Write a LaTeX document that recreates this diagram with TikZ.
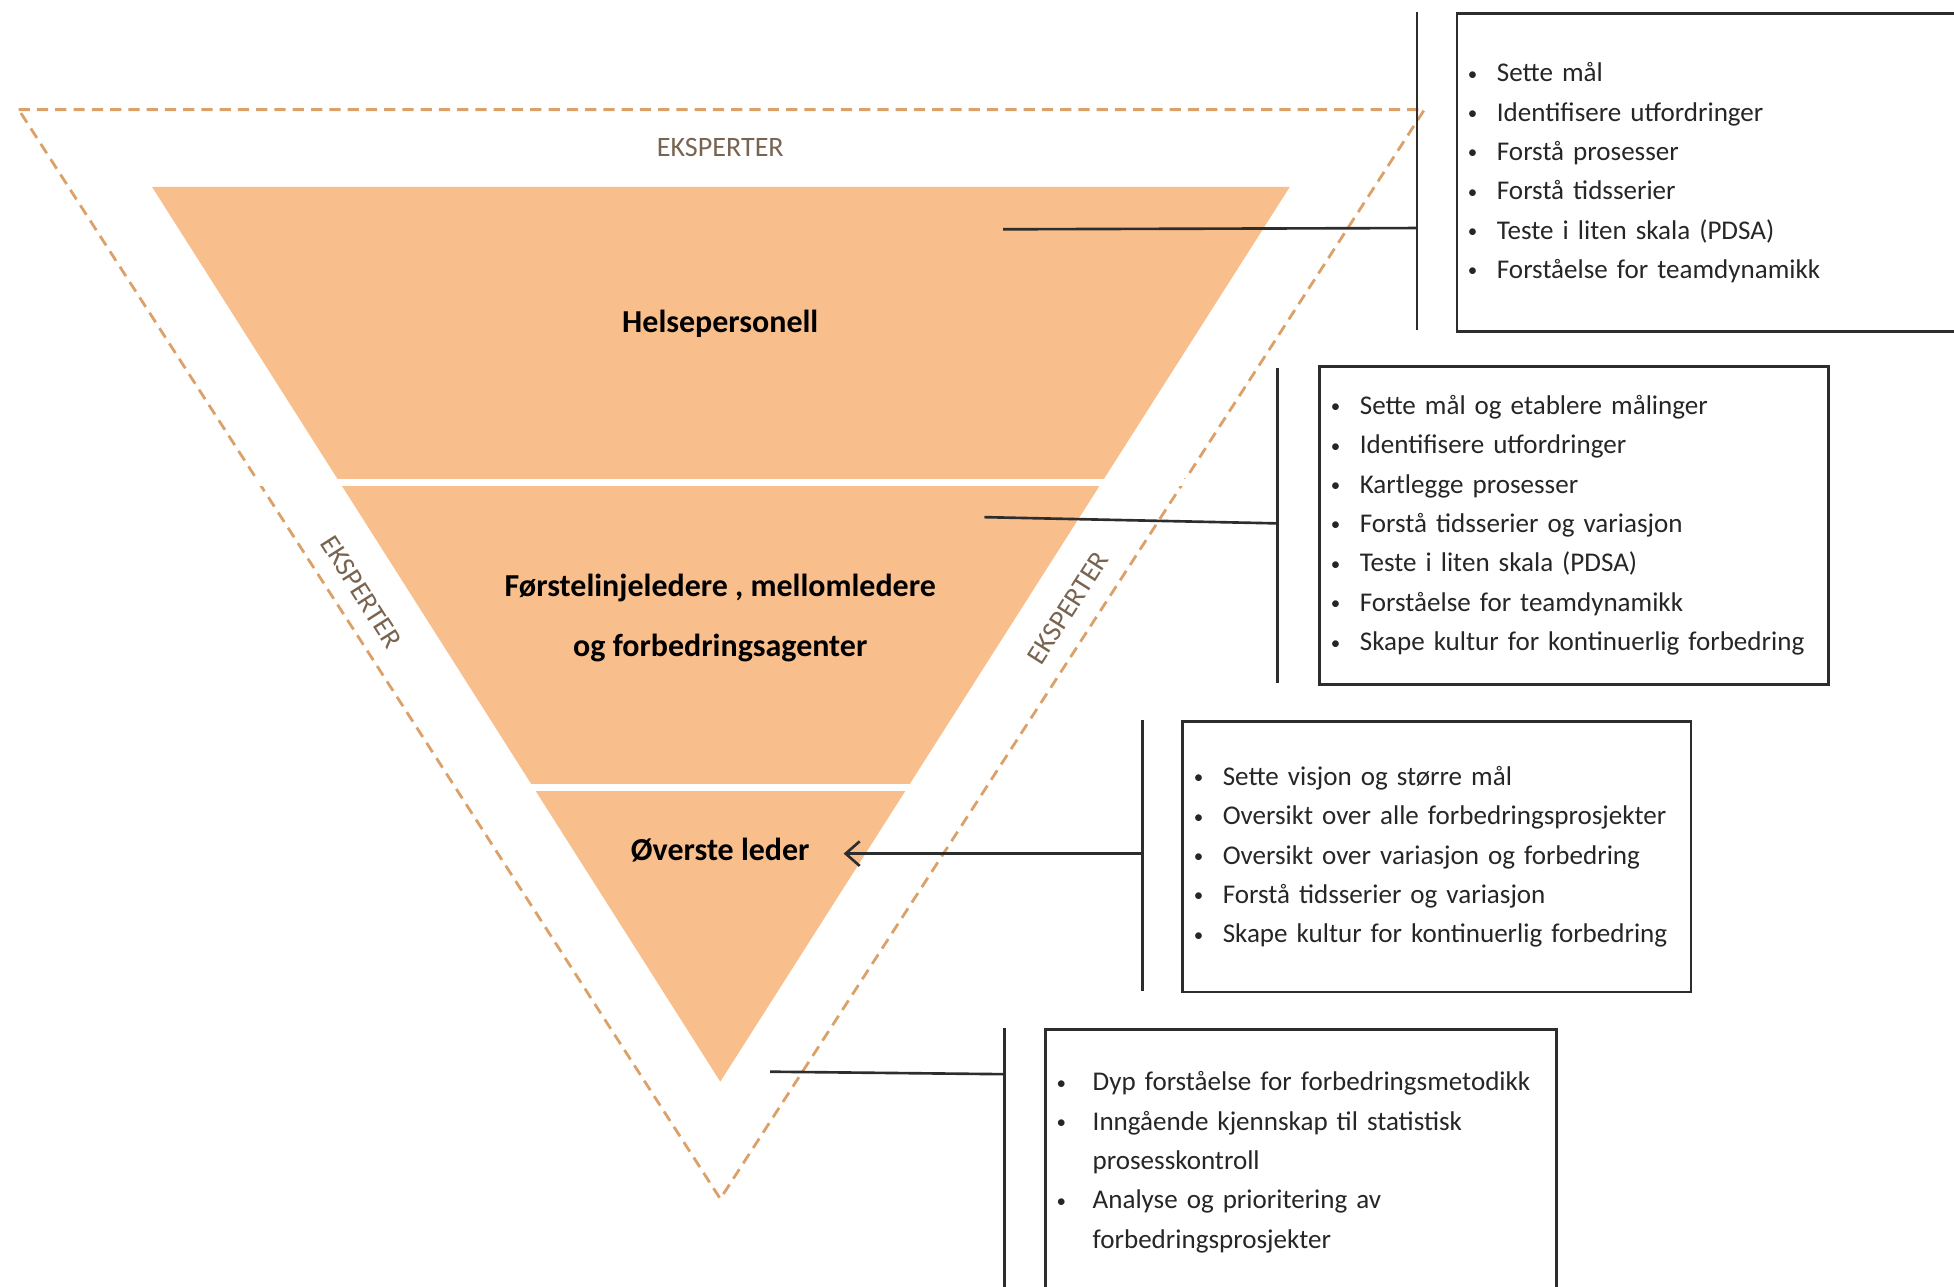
\documentclass[tikz,border=0pt]{standalone}
\usepackage{fontspec}
\setmainfont{Carlito}
\usetikzlibrary{arrows.meta}
\definecolor{pyrfill}{RGB}{248,190,140}
\definecolor{dashcol}{RGB}{220,160,105}
\definecolor{expcol}{RGB}{120,100,80}
\definecolor{linecol}{RGB}{45,45,45}
\newcommand{\smallbul}{\raisebox{0.45pt}{\fontsize{5.4}{5}\selectfont\textbullet}}
\newcommand{\bl}{\makebox[0.29cm][l]{\smallbul}}
\newcommand{\blw}{\makebox[0.36cm][l]{\smallbul}}
\begin{document}
\begin{tikzpicture}[x=0.01246cm, y=-0.01246cm,
  listbox/.style={draw=linecol, line width=0.8pt, anchor=north west,
    inner xsep=0.11cm, inner ysep=0pt, align=left,
    font=\fontsize{7.7}{11.2}\selectfont, text=black!85},
  layerlabel/.style={font=\bfseries\fontsize{9.1}{17}\selectfont, align=center, text=black},
  expert/.style={font=\fontsize{8}{9.6}\selectfont, text=expcol},
  conn/.style={draw=linecol, line width=0.75pt},
  bracket/.style={draw=linecol, line width=0.75pt},
  dashtri/.style={draw=dashcol, line width=0.8pt, dash pattern=on 3.2pt off 2pt},
  gap/.style={draw=white, line width=0.065cm}]
\useasboundingbox (0,0) rectangle (1568,1032);
\clip (0,0) rectangle (1568,1032);

% dashed outer triangle
\coordinate (d1) at (15,88);
\coordinate (d2) at (1143,88);
\coordinate (d3) at (578,962);
\draw[dashtri] (d1) -- (d2) -- (d3) -- cycle;

% orange pyramid
\coordinate (p1) at (122,150);
\coordinate (p2) at (1035,150);
\coordinate (p3) at (578,868);
\fill[pyrfill] (p1) -- (p2) -- (p3) -- cycle;
\coordinate (g1a) at (200,387);
\coordinate (g1b) at (960,387);
\coordinate (g2a) at (380,632);
\coordinate (g2b) at (780,632);
\draw[gap] (g1a) -- (g1b);
\draw[gap] (g2a) -- (g2b);

% labels
\node[expert] (etop) at (578,118) {EKSPERTER};
\node[expert, rotate=-57.5] (eleft) at (290,475) {EKSPERTER};
\node[expert, rotate=57.5] (eright) at (857,488) {EKSPERTER};
\node[layerlabel] (hp) at (578,260) {Helsepersonell};
\node[layerlabel] (fl) at (578,496) {Førstelinjeledere , mellomledere\\og forbedringsagenter};
\node[layerlabel] (ov) at (578,682) {Øverste leder};

% boxes
\node[listbox, minimum width=5.134cm, minimum height=3.177cm, text width=4.914cm] (b1) at (1168,10) {%
\bl Sette mål\\
\bl Identifisere utfordringer\\
\bl Forstå prosesser\\
\bl Forstå tidsserier\\
\bl Teste i liten skala (PDSA)\\
\bl Forståelse for teamdynamikk};
\node[listbox, minimum width=5.084cm, minimum height=3.177cm, text width=4.864cm] (b2) at (1058,293) {%
\bl Sette mål og etablere målinger\\
\bl Identifisere utfordringer\\
\bl Kartlegge prosesser\\
\bl Forstå tidsserier og variasjon\\
\bl Teste i liten skala (PDSA)\\
\bl Forståelse for teamdynamikk\\
\bl Skape kultur for kontinuerlig forbedring};
\node[listbox, minimum width=5.084cm, minimum height=2.704cm, text width=4.864cm] (b3) at (948,578) {%
\bl Sette visjon og større mål\\
\bl Oversikt over alle forbedringsprosjekter\\
\bl Oversikt over variasjon og forbedring\\
\bl Forstå tidsserier og variasjon\\
\bl Skape kultur for kontinuerlig forbedring};
\node[listbox, minimum width=5.109cm, minimum height=2.654cm, text width=4.889cm] (b4) at (838,825) {%
\blw Dyp forståelse for forbedringsmetodikk\\
\blw Inngående kjennskap til statistisk\\
\hspace*{0.36cm}prosesskontroll\\
\blw Analyse og prioritering av\\
\hspace*{0.36cm}forbedringsprosjekter};

% brackets
\coordinate (v1t) at (1137,10);  \coordinate (v1b) at (1137,265);
\coordinate (v2t) at (1025,295); \coordinate (v2b) at (1025,548);
\coordinate (v3t) at (917,578);  \coordinate (v3b) at (917,795);
\coordinate (v4t) at (806,825);  \coordinate (v4b) at (806,1045);
\draw[bracket] (v1t) -- (v1b);
\draw[bracket] (v2t) -- (v2b);
\draw[bracket] (v3t) -- (v3b);
\draw[bracket] (v4t) -- (v4b);

% connectors
\coordinate (k1) at (1137,183); \coordinate (a1) at (805,184);
\coordinate (k2) at (1025,420); \coordinate (a2) at (790,415);
\coordinate (k3) at (917,685);  \coordinate (a3) at (677,685);
\coordinate (k4) at (806,862);  \coordinate (a4) at (618,860);
\draw[conn] (k1) -- (a1);
\draw[conn] (k2) -- (a2);
\draw[conn, -{Straight Barb[length=4pt,width=7pt]}] (k3) -- (a3);
\draw[conn] (k4) -- (a4);
\end{tikzpicture}
\end{document}
